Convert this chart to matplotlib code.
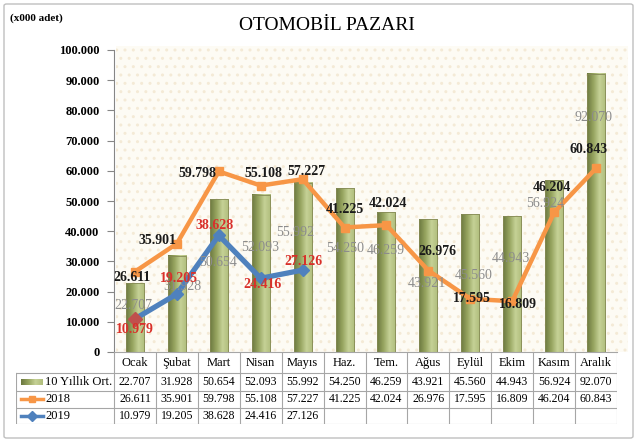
import matplotlib
matplotlib.use("Agg")
import matplotlib.pyplot as plt
import numpy as np
from matplotlib.patches import Rectangle, FancyBboxPatch
from matplotlib.colors import LinearSegmentedColormap

plt.rcParams['font.family'] = ['Liberation Serif', 'DejaVu Serif']

# data (x000 adet)
months = ['Ocak', 'Şubat', 'Mart', 'Nisan', 'Mayıs', 'Haz.', 'Tem.', 'Ağus',
          'Eylül', 'Ekim', 'Kasım', 'Aralık']
avg10 = [22707, 31928, 50654, 52093, 55992, 54250, 46259, 43921, 45560, 44943, 56924, 92070]
y2018 = [26611, 35901, 59798, 55108, 57227, 41225, 42024, 26976, 17595, 16809, 46204, 60843]
y2019 = [10979, 19205, 38628, 24416, 27126]
series_names = ['10 Yıllık Ort.', '2018', '2019']

# label offsets in pixels (dx, dy), hand placed like the original
off_avg = [(-2, -22), (5, -31), (-1, -63), (-1, -53), (-7, -50), (1, -60),
           (-1, -38), (-1, -64), (3, -61), (-1, -42), (-9, -23), (-3, -44)]
off_18 = [(-3, -6), (-19, 3), (-21, -2), (3, 12), (4, 8), (0, 18),
          (1, 22), (9, 19), (2, 0), (6, -3), (-2, 25), (-7, 19)]
off_19 = [(0, -11), (2, 16), (-4, 10), (2, -6), (1, 9)]

W, H = 640, 447
fx = lambda px: px / W
fy = lambda py: 1 - py / H

def fmt(v):
    return f"{int(v):,}".replace(',', '.')

fig = plt.figure(figsize=(6.4, 4.47), dpi=100)
fig.patch.set_facecolor('white')

# outer chart border
fig.add_artist(FancyBboxPatch((fx(4), fy(438)), fx(633) - fx(4), fy(4) - fy(438),
                              boxstyle='round,pad=0,rounding_size=0.004',
                              transform=fig.transFigure, facecolor='none',
                              edgecolor='#bfbfbf', lw=1.0, zorder=-2))
# plot area background (dotted cream)
fig.add_artist(Rectangle((fx(116), fy(352)), fx(628) - fx(116), fy(46) - fy(352),
                         transform=fig.transFigure, facecolor='#fdfbf4',
                         edgecolor='#f4ead6', hatch='..', lw=0, zorder=-1))

fig.text(fx(10), fy(18), '(x000 adet)', fontsize=8, fontweight='bold', va='center')
fig.text(fx(327), fy(25), 'OTOMOBİL PAZARI', fontsize=14, ha='center', va='center')

ax = fig.add_axes([fx(114), fy(352), (617 - 114) / W, (352 - 50) / H])
ax.set_facecolor('none')
x = np.arange(len(months))

olive = LinearSegmentedColormap.from_list('olive', ['#6c7940', '#96a45f', '#c5d196', '#b0bd7c'])
grad = np.linspace(0, 1, 64).reshape(1, -1)
bw = 0.43
for i, v in enumerate(avg10):
    ax.imshow(grad, extent=[i - bw / 2, i + bw / 2, 0, v], aspect='auto', cmap=olive, zorder=2)
    ax.add_patch(Rectangle((i - bw / 2, 0), bw, v, facecolor='none', edgecolor='#858a55', lw=0.6, zorder=2.1))

ax.plot(x, y2018, color='#f79646', lw=3.2, marker='s', ms=6, zorder=4)
ax.plot(x[:len(y2019)], y2019, color='#4f81bd', lw=3.8, marker='D', ms=6.5, zorder=5)
ax.plot(x[0], y2019[0], marker='D', color='#c0504d', ms=7, zorder=6)

for i, v in enumerate(avg10):
    ax.annotate(fmt(v), (i, v), xytext=off_avg[i], textcoords='offset pixels',
                ha='center', va='center', fontsize=10, color='#8c8c8c', zorder=7)
for i, v in enumerate(y2018):
    ax.annotate(fmt(v), (i, v), xytext=off_18[i], textcoords='offset pixels',
                ha='center', va='center', fontsize=10, fontweight='bold', color='#1a1a1a', zorder=8)
for i, v in enumerate(y2019):
    ax.annotate(fmt(v), (i, v), xytext=off_19[i], textcoords='offset pixels',
                ha='center', va='center', fontsize=10, fontweight='bold', color='#d9302a', zorder=8)

ax.set_xlim(-0.5, 11.5)
ax.set_ylim(0, 100000)
ax.set_xticks([])
ax.set_yticks(np.arange(0, 100001, 10000))
ax.set_yticklabels([fmt(t) for t in np.arange(0, 100001, 10000)], fontsize=9, fontweight='bold')
ax.tick_params(axis='y', direction='out', length=5, width=0.8, color='#868686', pad=5.5)
for s in ['top', 'right']:
    ax.spines[s].set_visible(False)
ax.spines['left'].set_color('#868686')
ax.spines['bottom'].set_color('#a6a6a6')
ax.spines['left'].set_linewidth(0.8)
ax.spines['bottom'].set_linewidth(0.8)

# data table below the chart
colw = (617 - 114) / 12
left = -0.5 - (114 - 16) / colw
tab = fig.add_axes([fx(16), fy(424), (617 - 16) / W, (424 - 352) / H])
tab.axis('off')
tab.set_xlim(left, 11.5)
tab.set_ylim(72, 0)
edges = [0, 21, 38.5, 55.5, 72]
lc = '#a6a6a6'
for k in range(13):
    tab.plot([k - 0.5, k - 0.5], [0, 72], color=lc, lw=0.8)
tab.plot([left, left], [21, 72], color=lc, lw=0.8)
for e in edges[1:]:
    tab.plot([left, 11.5], [e, e], color=lc, lw=0.8)

for i, m in enumerate(months):
    tab.text(i, 11, m, ha='center', va='center', fontsize=9)
rows = [avg10, y2018, y2019]
for r, vals in enumerate(rows):
    yc = (edges[r + 1] + edges[r + 2]) / 2
    for i, v in enumerate(vals):
        tab.text(i, yc + 0.5, fmt(v), ha='center', va='center', fontsize=8.5)
    tab.text(left + (45 - 16) / colw, yc + 0.5, series_names[r], ha='left', va='center', fontsize=9)

# legend keys inside the table
k0 = left + (21 - 16) / colw
k1 = left + (43 - 16) / colw
yc0 = (edges[1] + edges[2]) / 2
tab.imshow(np.linspace(0, 1, 32).reshape(1, -1), extent=[k0, k1, yc0 + 3, yc0 - 3],
           aspect='auto', cmap=olive)
yc1 = (edges[2] + edges[3]) / 2
tab.plot([k0, k1], [yc1, yc1], color='#f79646', lw=2.5)
tab.plot([(k0 + k1) / 2], [yc1], marker='s', color='#f79646', ms=5)
yc2 = (edges[3] + edges[4]) / 2
tab.plot([k0, k1], [yc2, yc2], color='#4f81bd', lw=2.5)
tab.plot([(k0 + k1) / 2], [yc2], marker='D', color='#4f81bd', ms=5)
tab.set_xlim(left, 11.5)
tab.set_ylim(72, 0)

fig.savefig('out.png', dpi=100)
